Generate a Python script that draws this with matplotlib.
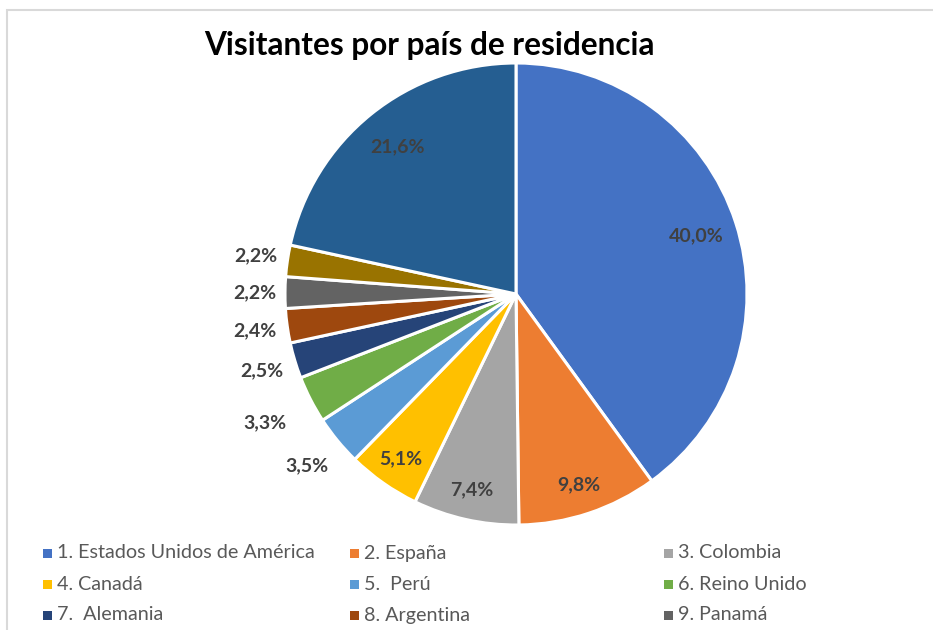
import numpy as np
import matplotlib.pyplot as plt
from matplotlib.patches import Rectangle

paises = ['1. Estados Unidos de América', '2. España', '3. Colombia',
          '4. Canadá', '5.  Perú', '6. Reino Unido',
          '7.  Alemania', '8. Argentina', '9. Panamá',
          '10. Otros', '11. Resto']
valores = [40.0, 9.8, 7.4, 5.1, 3.5, 3.3, 2.5, 2.4, 2.2, 2.2, 21.6]
colores = ['#4472C4', '#ED7D31', '#A5A5A5', '#FFC000', '#5B9BD5', '#70AD47',
           '#264478', '#9E480E', '#636363', '#997300', '#255E91']
# label distance as fraction of radius (inside labels for large slices)
dist_etiqueta = [0.82, 0.87, 0.87, 0.87, 1.17, 1.22, 1.15, 1.14, 1.13, 1.14, 0.82]

W, H = 933, 630
fig = plt.figure(figsize=(W / 100, H / 100), dpi=100)
plt.rcParams['font.family'] = ['Lato', 'DejaVu Sans']

# chart frame (cut off at right and bottom)
fig.patches.append(Rectangle((7 / W, -0.05), 1.0, 1 - 10 / H + 0.05,
                             transform=fig.transFigure, fill=False,
                             edgecolor='#d9d9d9', linewidth=1.5))

cx, cy, r = 516, 294, 231
ax = fig.add_axes([(cx - r) / W, (H - cy - r) / H, 2 * r / W, 2 * r / H])
wedges, _ = ax.pie(valores, colors=colores, startangle=90, counterclock=False,
                   radius=1.0,
                   wedgeprops=dict(edgecolor='white', linewidth=2.2))
ax.set_xlim(-1, 1)
ax.set_ylim(-1, 1)
ax.set_aspect('equal')
ax.axis('off')

for w, v, d in zip(wedges, valores, dist_etiqueta):
    ang = np.deg2rad((w.theta1 + w.theta2) / 2)
    txt = f'{v:.1f}%'.replace('.', ',')
    ax.text(d * np.cos(ang), d * np.sin(ang), txt, ha='center', va='center',
            fontsize=14, fontweight='bold', color='#404040', clip_on=False)

fig.text(429 / W, 1 - 45 / H, 'Visitantes por país de residencia',
         ha='center', va='center', fontsize=22.7, fontweight='bold', color='black')

# legend, first 9 entries visible
col_x = [47, 354, 668]
row_y = [553, 584, 615]
for i in range(9):
    x = col_x[i % 3]
    y = row_y[i // 3]
    fig.patches.append(Rectangle(((x - 4.5) / W, 1 - (y + 4.5) / H), 9 / W, 9 / H,
                                 transform=fig.transFigure,
                                 facecolor=colores[i], edgecolor='none'))
    fig.text((x + 10) / W, 1 - y / H, paises[i], ha='left', va='center',
             fontsize=14.2, color='#595959')

fig.savefig('out.png', dpi=100)
